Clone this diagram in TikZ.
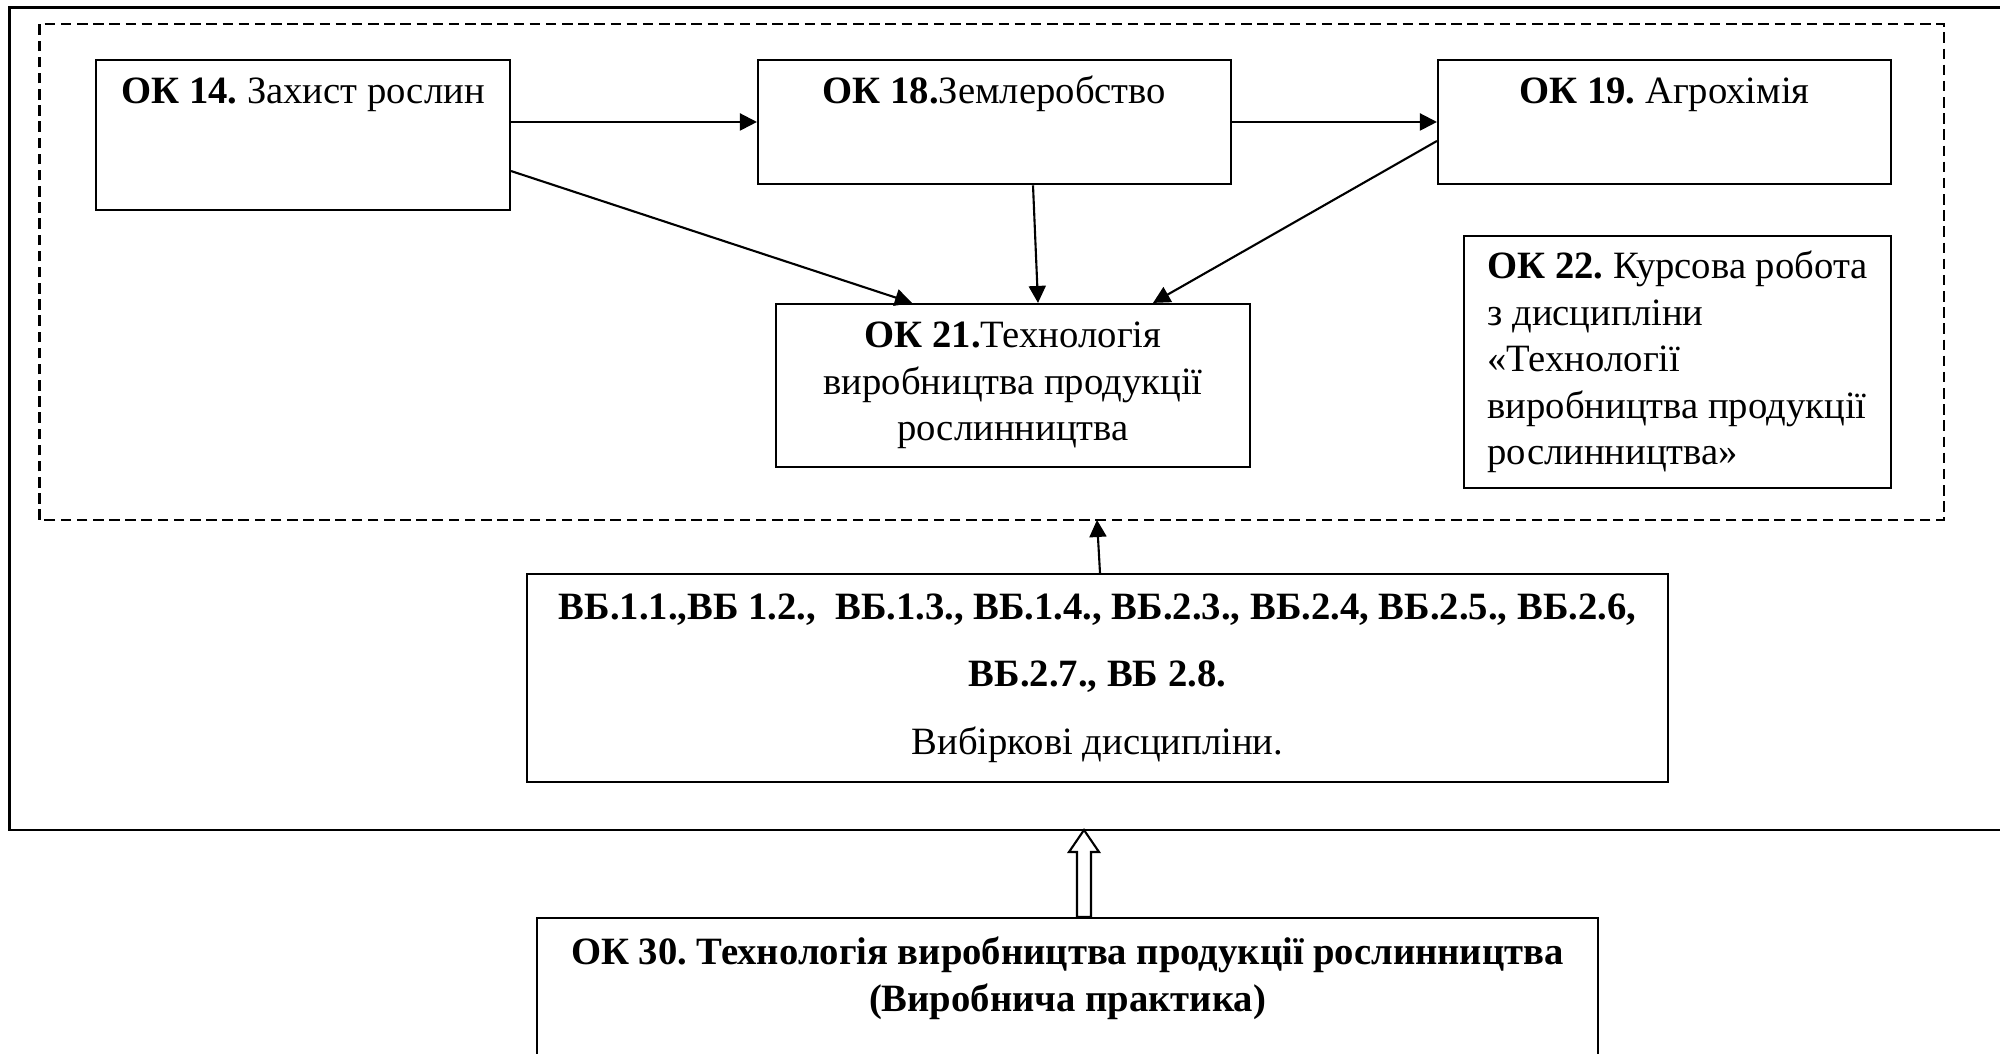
\documentclass[tikz,border=0pt]{standalone}
\usepackage{fontspec}
\setmainfont{Liberation Serif}
\frenchspacing
\usetikzlibrary{arrows.meta}
\tikzset{
  box/.style={draw, inner sep=0pt},
  txt/.style={align=center, inner sep=0pt, font=\fontsize{11}{13.2}\selectfont},
}
\begin{document}
\begin{tikzpicture}[>={Triangle[length=0.17cm,width=0.17cm]}, line width=0.6pt]
\useasboundingbox (0,0) rectangle (20,10.54);
% outer frame and the dashed group
\draw[line width=0.8pt] (0.096,2.24) rectangle (20.3,10.467);
\draw[dash pattern=on 3pt off 1.6pt] (0.395,5.34) rectangle (19.44,10.30);
\coordinate (grp) at (10.97,5.34);
\coordinate (tip) at (10.84,2.24);

% boxes
\node[box, minimum width=4.14cm, minimum height=1.50cm] (ok14) at (3.03,9.19) {};
\node[box, minimum width=4.73cm, minimum height=1.245cm] (ok18) at (9.945,9.32) {};
\node[box, minimum width=4.53cm, minimum height=1.245cm] (ok19) at (16.645,9.32) {};
\node[box, txt, minimum width=4.74cm, minimum height=1.63cm] (ok21) at (10.13,6.685)
  {\textbf{ОК 21.}Технологія\\виробництва продукції\\рослинництва};
\node[box, txt, align=left, minimum width=4.27cm, minimum height=2.52cm] (ok22) at (16.775,6.92)
  {\textbf{ОК 22.} Курсова робота\\з дисципліни\\«Технології\\виробництва продукції\\рослинництва»};
\node[box, txt, minimum width=11.41cm, minimum height=2.08cm] (vb) at (10.975,3.76)
  {\textbf{ВБ.1.1.,ВБ 1.2.,\ \ ВБ.1.3., ВБ.1.4., ВБ.2.3., ВБ.2.4, ВБ.2.5., ВБ.2.6,}\\[6pt]
   \textbf{ВБ.2.7., ВБ 2.8.}\\[6pt]Вибіркові дисципліни.};
\node[box, minimum width=10.61cm, minimum height=1.6cm] (ok30) at (10.675,0.56) {};

% texts at the top of the boxes
\node[txt, anchor=base] (ok14t) at ([yshift=-0.45cm]ok14.north) {\textbf{ОК 14.} Захист рослин};
\node[txt, anchor=base] (ok18t) at ([yshift=-0.45cm]ok18.north) {\textbf{ОК 18.}Землеробство};
\node[txt, anchor=base] (ok19t) at ([yshift=-0.45cm]ok19.north) {\textbf{ОК 19.} Агрохімія};
\node[txt, anchor=north] (ok30t) at ([yshift=-0.19cm]ok30.north)
  {\textbf{ОК 30. Технологія виробництва продукції рослинництва}\\\textbf{(Виробнича практика)}};

% arrows
\draw[->] (ok14.east |- ok18.west) -- (ok18.west);
\draw[->] (ok18.east) -- (ok19.west);
\draw[->] ([yshift=0.4cm]ok14.south east) -- ([xshift=-1.01cm]ok21.north);
\draw[->] ([xshift=0.385cm]ok18.south) -- ([xshift=0.25cm]ok21.north);
\draw[->] ([yshift=-0.19cm]ok19.west) -- ([xshift=1.40cm]ok21.north);
\draw[->] ([xshift=0.025cm]vb.north) -- (grp);
\coordinate (bt) at (tip |- ok30.north);
\draw[fill=white] ([xshift=-0.07cm]bt) -- ([xshift=-0.07cm,yshift=-0.22cm]tip)
  -- ([xshift=-0.15cm,yshift=-0.22cm]tip) -- (tip) -- ([xshift=0.15cm,yshift=-0.22cm]tip)
  -- ([xshift=0.07cm,yshift=-0.22cm]tip) -- ([xshift=0.07cm]bt) -- cycle;
\end{tikzpicture}
\end{document}
